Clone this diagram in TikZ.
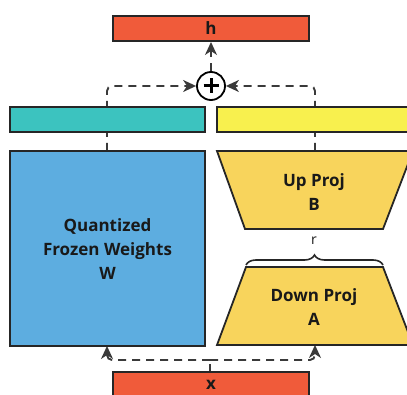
\documentclass[tikz,border=0pt]{standalone}
\usepackage{fontspec}
\setmainfont{Open Sans}
\usetikzlibrary{arrows.meta,decorations.pathreplacing,calc}
\definecolor{redbox}{HTML}{F05B3A}
\definecolor{tealbox}{HTML}{3CC3BF}
\definecolor{yelbar}{HTML}{F8F04E}
\definecolor{bluebox}{HTML}{5DADE0}
\definecolor{trap}{HTML}{F8D45C}
\definecolor{lnk}{HTML}{3A3A3A}
\tikzset{
  box/.style={draw=black!85, line width=1.8pt},
  lbl/.style={font=\fontsize{17}{24}\selectfont\bfseries, text=black!90, align=center},
  dashln/.style={draw=lnk, line width=1.9pt, dash pattern=on 8pt off 6pt, rounded corners=5pt},
  tip/.style={-{Stealth[length=13pt,width=12pt,inset=4pt]}},
}
\begin{document}
\begin{tikzpicture}[x=1pt,y=-1pt]
\useasboundingbox (0,0) rectangle (407,395);
\begin{scope}
\clip (0,0) rectangle (407,395);
% coordinates
\coordinate (wtop) at (107,151);
\coordinate (wbot) at (107,346);
\coordinate (btop) at (315,151);
\coordinate (abot) at (315,345);
\coordinate (xtop) at (210,372);
\coordinate (split) at (210,360);
% plus
\node[circle, draw=black, line width=1.8pt, minimum size=28pt, inner sep=0pt] (plus) at (211,86) {};
\draw[line width=3pt] ($(plus.center)+(-7.5,0)$) -- ($(plus.center)+(7.5,0)$);
\draw[line width=3pt] ($(plus.center)+(0,-7.5)$) -- ($(plus.center)+(0,7.5)$);
% dashed connectors (behind boxes)
\draw[dashln, tip] (wtop) -- (107,86) -- (plus.west);
\draw[dashln, tip] (btop) -- (315,86) -- (plus.east);
\draw[dashln, tip] (plus.north) -- (211,42);
\draw[dashln] (xtop) -- (split);
\draw[dashln, tip] (split) -- (107,360) -- (wbot);
\draw[dashln, tip] (split) -- (315,360) -- (abot);
% boxes
\node[box, fill=redbox, minimum width=196pt, minimum height=25pt, inner sep=0pt] (h) at (211,28.5) {};
\node[lbl] at (h.center) {h};
\filldraw[fill=tealbox, draw=black!85, line width=1.8pt] (10,107) rectangle (205,132);
\filldraw[fill=yelbar, draw=black!85, line width=1.8pt] (217,107) rectangle (412,132);
\node[box, fill=bluebox, minimum width=195pt, minimum height=195pt, inner sep=0pt] (W) at (107.5,248.5) {};
\node[lbl] at (107.5,249) {Quantized\\Frozen Weights\\W};
\filldraw[box, fill=trap] (217,151) -- (413,151) -- (383,229) -- (245,229) -- cycle;
\node[lbl] (B) at (314,192) {Up Proj\\B};
\filldraw[box, fill=trap] (246,267) -- (383,267) -- (413,345) -- (217,345) -- cycle;
\node[lbl] (A) at (314,307) {Down Proj\\A};
\draw[line width=1.6pt, black!85, decorate, decoration={brace, amplitude=10pt}] (246,265) -- (383,265);
\node[font=\fontsize{14}{14}\selectfont, text=black!90] (r) at (314,241) {r};
\node[box, fill=redbox, minimum width=196pt, minimum height=30pt, inner sep=0pt] (x) at (211,387) {};
\node[lbl] at (211,385) {x};
\end{scope}
\end{tikzpicture}
\end{document}
